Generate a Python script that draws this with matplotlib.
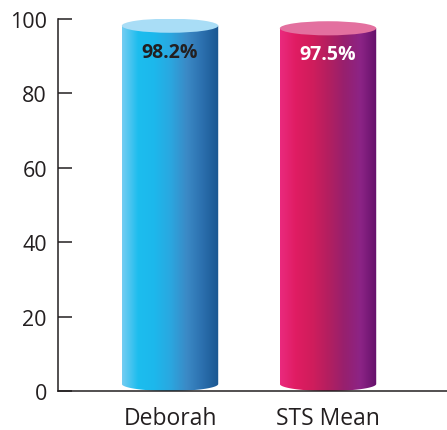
import numpy as np
import matplotlib.pyplot as plt
from matplotlib.colors import LinearSegmentedColormap
from matplotlib.patches import Ellipse
from matplotlib.path import Path

plt.rcParams['font.family'] = ['Open Sans', 'DejaVu Sans']

# 数据
categories = ['Deborah', 'STS Mean']
values = [98.2, 97.5]
value_labels = ['98.2%', '97.5%']
label_colors = ['#231f20', '#ffffff']

# 圆柱体的横向渐变色和顶面颜色
side_colors = [
    ['#74cdf2', '#1cbdee', '#1db8ec', '#2aa7e0', '#3b8ac6', '#2b6fae', '#1a5690'],
    ['#ea2a7e', '#e01c62', '#d01d5c', '#b31f60', '#97206e', '#8c2486', '#64106a'],
]
top_colors = ['#a9ddf6', '#e3709f']

bar_width = 0.61
cap_h = 1.9   # 椭圆半高（数据单位）

fig = plt.figure(figsize=(4.47, 4.31), dpi=100)
ax = fig.add_axes([58 / 447, 39 / 431, 1 - 58 / 447, 372 / 431])
ax.set_xlim(-0.709, 1.753)
ax.set_ylim(0, 100)

for i, (v, cols, top) in enumerate(zip(values, side_colors, top_colors)):
    x0, x1 = i - bar_width / 2, i + bar_width / 2
    cmap = LinearSegmentedColormap.from_list(f'cyl{i}', cols)
    grad = np.linspace(0, 1, 256).reshape(1, -1)
    im = ax.imshow(grad, cmap=cmap, aspect='auto', extent=[x0, x1, 0, v],
                   interpolation='bicubic', zorder=2)
    # 侧面：矩形 + 底部半椭圆
    t = np.linspace(np.pi, 2 * np.pi, 60)
    bx = i + bar_width / 2 * np.cos(t)
    by = cap_h + cap_h * np.sin(t)
    verts = [(x0, v)] + list(zip(bx, by)) + [(x1, v), (x0, v)]
    codes = [Path.MOVETO] + [Path.LINETO] * (len(verts) - 2) + [Path.CLOSEPOLY]
    im.set_clip_path(Path(verts, codes), transform=ax.transData)
    ax.add_patch(Ellipse((i, v), bar_width, 2 * cap_h, facecolor=top,
                         edgecolor='none', zorder=3))
    ax.text(i, v - 7.0, value_labels[i], ha='center', va='center',
            fontsize=14, fontweight='bold', color=label_colors[i], zorder=4)

ax.set_xticks(range(len(categories)))
ax.set_xticklabels(categories)
ax.set_yticks(np.arange(0, 101, 20))

for side in ['top', 'right']:
    ax.spines[side].set_visible(False)
for side in ['left', 'bottom']:
    ax.spines[side].set_color('#231f20')
    ax.spines[side].set_linewidth(1.1)
    ax.spines[side].set_zorder(5)

ax.tick_params(axis='y', direction='in', length=10, width=1.1, color='#231f20',
               labelsize=15.5, labelcolor='#231f20', pad=8)
ax.tick_params(axis='x', length=0, labelsize=16.5, labelcolor='#231f20', pad=11)

fig.savefig('out.png', dpi=100)
